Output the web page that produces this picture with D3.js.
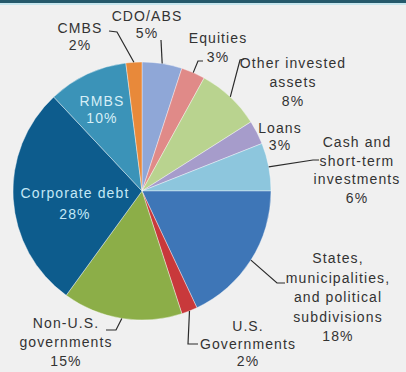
<!DOCTYPE html>
<html>
<head>
<meta charset="utf-8">
<script src="https://cdn.jsdelivr.net/npm/d3@7"></script>
<style>
  html, body { margin: 0; padding: 0; background: #f0f0f0; }
  svg { display: block; }
  text { font-family: "Liberation Sans", Arial, sans-serif; font-size: 14px; letter-spacing: 1.1px; }
</style>
</head>
<body>
<svg id="chart" width="406" height="372"></svg>
<script>
// Portfolio allocation, clockwise from 12 o'clock
const categories = [
  "CDO/ABS", "Equities", "Other invested\nassets", "Loans",
  "Cash and\nshort-term\ninvestments",
  "States,\nmunicipalities,\nand political\nsubdivisions",
  "U.S.\nGovernments", "Non-U.S.\ngovernments", "Corporate debt", "RMBS", "CMBS"
];
const shares = [5, 3, 8, 3, 6, 18, 2, 15, 28, 10, 2];
const sliceColors = [
  "#8fa7d7", "#e08a88", "#b9d38f", "#a69ccb", "#8dc6dd",
  "#3e76b7", "#c8393b", "#8cae48", "#0d5c8d", "#3b93b8", "#e8893a"
];

// Label placement: first baseline, centre x, optional leader bends, text colour
const labelLayout = {
  "CDO/ABS":       { x: 147, y: 21,  lh: 17, leader: [[161, 40]] },
  "Equities":      { x: 218, y: 43,  lh: 19, leader: [[198, 61], [203, 61]] },
  "Other invested\nassets": { x: 293, y: 68, lh: 19, leader: [[240, 60], [244, 59]] },
  "Loans":         { x: 280, y: 133, lh: 17 },
  "Cash and\nshort-term\ninvestments": { x: 357, y: 147, lh: 18.7, leader: [[313, 160], [319, 160]] },
  "States,\nmunicipalities,\nand political\nsubdivisions": { x: 338, y: 263, lh: 19.5, leader: [[277, 283], [285, 283]] },
  "U.S.\nGovernments": { x: 248, y: 331, lh: 17.5, leader: [[188, 344], [198, 344]] },
  "Non-U.S.\ngovernments": { x: 66, y: 328, lh: 19, leader: [[116, 330], [106, 330]] },
  "Corporate debt": { x: 75, y: 198, lh: 21, fill: "#c4e8f6" },
  "RMBS":          { x: 102, y: 106, lh: 17, fill: "#d6eef6" },
  "CMBS":          { x: 80,  y: 33,  lh: 17, leader: [[117, 32], [109, 31]] }
};

const svg = d3.select("#chart");
const W = 406, H = 372;

// header band
svg.append("rect").attr("x", 0).attr("y", 0).attr("width", W).attr("height", 3).attr("fill", "#25596b");
svg.append("rect").attr("x", 0).attr("y", 3).attr("width", W).attr("height", 2).attr("fill", "#c6e6ee");

const cx = 142, cy = 191, R = 129;
const g = svg.append("g").attr("transform", `translate(${cx},${cy})`);

const data = categories.map((c, i) => ({ name: c, value: shares[i], color: sliceColors[i] }));
const pie = d3.pie().sort(null).value(d => d.value).startAngle(0).endAngle(2 * Math.PI);
const arcs = pie(data);
const arc = d3.arc().innerRadius(0).outerRadius(R);

g.selectAll("path.slice")
  .data(arcs)
  .join("path")
  .attr("class", "slice")
  .attr("d", arc)
  .attr("fill", d => d.data.color)
  .attr("stroke", "rgba(255,255,255,0.55)")
  .attr("stroke-width", 0.7);

// leader lines start at the slice's outer edge, mid-angle
const line = d3.line();
arcs.forEach(a => {
  const lay = labelLayout[a.data.name];
  if (!lay || !lay.leader) return;
  const mid = (a.startAngle + a.endAngle) / 2;
  const start = [cx + R * Math.sin(mid), cy - R * Math.cos(mid)];
  svg.append("path")
    .attr("d", line([start, ...lay.leader]))
    .attr("fill", "none")
    .attr("stroke", "#2b2b2b")
    .attr("stroke-width", 1.2);
});

// labels: name lines plus percentage
arcs.forEach(a => {
  const lay = labelLayout[a.data.name];
  const lines = a.data.name.split("\n").concat([a.data.value + "%"]);
  const t = svg.append("text")
    .attr("text-anchor", "middle")
    .attr("fill", lay.fill || "#333333");
  lines.forEach((s, i) => {
    t.append("tspan").attr("x", lay.x).attr("y", lay.y + i * lay.lh).text(s);
  });
});
</script>
</body>
</html>
